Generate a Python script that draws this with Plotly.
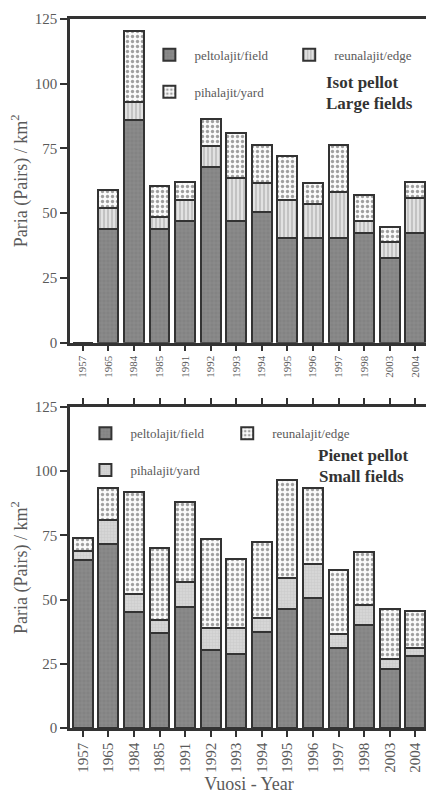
import plotly.graph_objects as go
from plotly.subplots import make_subplots

years = ["1957", "1965", "1984", "1985", "1991", "1992", "1993", "1994",
         "1995", "1996", "1997", "1998", "2003", "2004"]

# Large fields (Isot pellot)
large_field = [0, 44, 86, 44, 47, 68, 47, 50.5, 40.5, 40.5, 40.5, 42.5, 32.5, 42.5]
large_edge = [0, 8, 7, 4.5, 8, 8, 16.5, 11, 14.5, 13, 17.5, 4.5, 6.5, 13.5]
large_yard = [0, 7, 27.5, 12, 7, 10.5, 17.5, 15, 17, 8, 18.5, 10, 5.5, 6]

# Small fields (Pienet pellot)
small_field = [65.5, 71.5, 45, 37, 47, 30.5, 29, 37.5, 46.5, 50.5, 31, 40, 23, 28]
small_yard = [3.5, 9.5, 7, 5, 10, 8.5, 10, 5.5, 12, 13.5, 5.5, 8, 4, 3]
small_edge = [5, 12.5, 40, 28, 31, 34.5, 27, 29.5, 38, 29.5, 25, 20.5, 19.5, 14.5]

yticks = [0, 25, 50, 75, 100, 125]

FONT = "Liberation Serif"
TXT = "#5a5a5a"
LINE = "#333333"

fig = make_subplots(rows=2, cols=1, vertical_spacing=0.09)

field_style = dict(color="#8a8a8a",
                   pattern=dict(shape="+", fgcolor="#6c6c6c", size=4, solidity=0.25),
                   line=dict(color=LINE, width=2))
stripe_style = dict(color="#e2e2e2",
                    pattern=dict(shape="|", fgcolor="#8a8a8a", size=4, solidity=0.35),
                    line=dict(color=LINE, width=2))
dot_style = dict(color="#fafafa",
                 pattern=dict(shape=".", fgcolor="#444444", size=5, solidity=0.35),
                 line=dict(color=LINE, width=2))
fine_style = dict(color="#d6d6d6",
                  pattern=dict(shape="+", fgcolor="#bdbdbd", size=3, solidity=0.3),
                  line=dict(color=LINE, width=2))

# top chart
fig.add_trace(go.Bar(x=years, y=large_field, name="peltolajit/field", marker=field_style,
                     legend="legend"), 1, 1)
fig.add_trace(go.Bar(x=years, y=large_edge, name="reunalajit/edge", marker=stripe_style,
                     legend="legend2"), 1, 1)
fig.add_trace(go.Bar(x=years, y=large_yard, name="pihalajit/yard", marker=dot_style,
                     legend="legend3"), 1, 1)
# bottom chart
fig.add_trace(go.Bar(x=years, y=small_field, name="peltolajit/field", marker=field_style,
                     legend="legend4"), 2, 1)
fig.add_trace(go.Bar(x=years, y=small_yard, name="pihalajit/yard", marker=fine_style,
                     legend="legend6"), 2, 1)
fig.add_trace(go.Bar(x=years, y=small_edge, name="reunalajit/edge", marker=dot_style,
                     legend="legend5"), 2, 1)

leg_common = dict(bgcolor="rgba(0,0,0,0)", font=dict(family=FONT, size=13, color=TXT),
                  xanchor="left", yanchor="middle", itemwidth=40)

# page pixel -> paper fraction (page has an 8px body margin)
def lx(px):
    return (px - 70) / 361.0

def ly(py):
    return (728 - py) / 712.0

fig.update_layout(
    width=426, height=788,
    margin=dict(l=62, r=3, t=8, b=68),
    barmode="stack", bargap=0.225,
    showlegend=True,
    plot_bgcolor="white", paper_bgcolor="white",
    font=dict(family=FONT, color=TXT),
    legend=dict(x=lx(145), y=ly(52), **leg_common),
    legend2=dict(x=lx(286), y=ly(52), **leg_common),
    legend3=dict(x=lx(145), y=ly(89), **leg_common),
    legend4=dict(x=lx(80.5), y=ly(432), **leg_common),
    legend5=dict(x=lx(223.5), y=ly(432), **leg_common),
    legend6=dict(x=lx(80.5), y=ly(469), **leg_common),
)

fig.update_layout(
    yaxis=dict(domain=[(728 - 341) / 712, 1.0]),
    yaxis2=dict(domain=[0.0, (728 - 405.7) / 712]),
)

for r in (1, 2):
    fig.update_yaxes(range=[0, 125], tickvals=yticks, ticks="outside", ticklen=7,
                     tickwidth=1.5, tickcolor=LINE, showline=True, linewidth=2.5,
                     linecolor=LINE, mirror=True, showgrid=False, zeroline=False,
                     tickfont=dict(family=FONT, size=15, color=TXT),
                     title=dict(text="Paria (Pairs) / km<sup>2</sup>",
                                font=dict(family=FONT, size=18, color=TXT), standoff=10),
                     row=r, col=1)

fig.update_xaxes(type="category", range=[-0.5, 13.5], ticks="outside", ticklen=6,
                 tickwidth=1.5, tickcolor=LINE, showline=True, linewidth=2.5,
                 linecolor=LINE, mirror=True, showgrid=False, tickangle=-90,
                 tickfont=dict(family=FONT, size=11, color=TXT), row=1, col=1)
fig.update_xaxes(type="category", range=[-0.5, 13.5], ticks="outside", ticklen=6,
                 tickwidth=1.5, tickcolor=LINE, showline=True, linewidth=2.5,
                 linecolor=LINE, mirror="ticks", showgrid=False, tickangle=-90,
                 tickfont=dict(family=FONT, size=15, color=TXT),
                 title=dict(text="Vuosi - Year", font=dict(family=FONT, size=18, color=TXT),
                            standoff=6),
                 row=2, col=1)

labels = [("Isot pellot", 365, 80), ("Large fields", 372, 101),
          ("Pienet pellot", 366, 454), ("Small fields", 364, 475)]
for txt, px, py in labels:
    fig.add_annotation(x=lx(px), y=ly(py), xref="paper", yref="paper",
                       xanchor="center", yanchor="middle",
                       text="<b>" + txt + "</b>", showarrow=False,
                       font=dict(family=FONT, size=17, color="#333333"))

fig.write_html("out.html")
